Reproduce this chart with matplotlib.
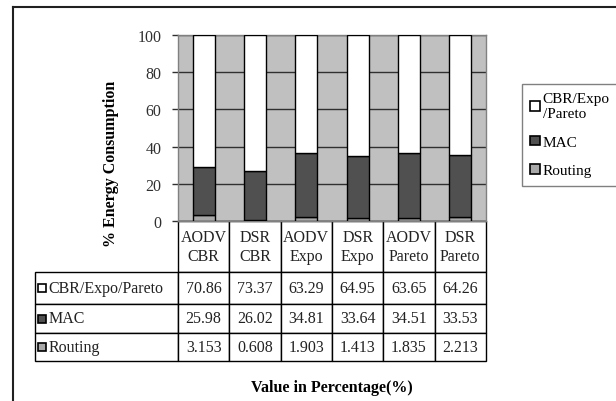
import matplotlib.pyplot as plt
import matplotlib.patches as mpatches
from matplotlib.lines import Line2D
import numpy as np

# data
categories = ['AODV\nCBR', 'DSR\nCBR', 'AODV\nExpo', 'DSR\nExpo', 'AODV\nPareto', 'DSR\nPareto']
traffic = [70.86, 73.37, 63.29, 64.95, 63.65, 64.26]
mac = [25.98, 26.02, 34.81, 33.64, 34.51, 33.53]
routing = [3.153, 0.608, 1.903, 1.413, 1.835, 2.213]
traffic_txt = ['70.86', '73.37', '63.29', '64.95', '63.65', '64.26']
mac_txt = ['25.98', '26.02', '34.81', '33.64', '34.51', '33.53']
routing_txt = ['3.153', '0.608', '1.903', '1.413', '1.835', '2.213']
series_names = ['CBR/Expo/Pareto', 'MAC', 'Routing']
legend_names = ['CBR/Expo\n/Pareto', 'MAC', 'Routing']
colors = ['white', '#505050', '#a8a8a8']

plt.rcParams['font.family'] = ['Liberation Serif', 'DejaVu Serif']
fs = 11.5

W, H = 616, 402
fig = plt.figure(figsize=(W / 100, H / 100), dpi=100)

# plot area in pixels
px0, px1, py0, py1 = 178, 486, 36, 222
ax = fig.add_axes([px0 / W, 1 - py1 / H, (px1 - px0) / W, (py1 - py0) / H])
ax.set_facecolor('#c0c0c0')

x = np.arange(len(categories))
bw = 0.43
ax.bar(x, routing, bw, color=colors[2], edgecolor='black', linewidth=1, zorder=3)
ax.bar(x, mac, bw, bottom=routing, color=colors[1], edgecolor='black', linewidth=1, zorder=3)
ax.bar(x, traffic, bw, bottom=np.array(routing) + np.array(mac), color=colors[0],
       edgecolor='black', linewidth=1, zorder=3)

ax.set_xlim(-0.5, len(categories) - 0.5)
ax.set_ylim(0, 100)
ax.set_yticks([0, 20, 40, 60, 80, 100])
ax.tick_params(axis='y', labelsize=fs, length=4, width=1, colors='#303030', pad=8)
ax.tick_params(axis='x', bottom=False, labelbottom=False)
ax.yaxis.grid(True, color='#303030', linewidth=1)
ax.set_axisbelow(True)
for s in ax.spines.values():
    s.set_color('#808080')
    s.set_linewidth(1)

# data table under the plot
cell_text = [[''] + categories]
for name, vals in zip(series_names, [traffic_txt, mac_txt, routing_txt]):
    cell_text.append([name] + vals)

label_w = px0 - 35
col_w = (px1 - px0) / len(categories)
tb_top, tb_bot = py1, 362
ah = py1 - py0
tab = ax.table(cellText=cell_text, colWidths=[label_w] + [col_w] * len(categories),
               cellLoc='center',
               bbox=[-(label_w) / (px1 - px0), -(tb_bot - tb_top) / ah,
                     (px1 - 35) / (px1 - px0), (tb_bot - tb_top) / ah])
tab.auto_set_font_size(False)
row_h = [51, 32, 29, 28]
for (r, c), cell in tab.get_celld().items():
    cell.set_height(row_h[r])
    cell.set_linewidth(1)
    cell.set_edgecolor('black')
    cell.get_text().set_fontsize(fs)
    cell.get_text().set_color('#222222')
    if r == 0 and c == 0:
        cell.visible_edges = ''
    if r > 0 and c == 0:
        cell.get_text().set_ha('left')
        cell.PAD = 0.095

# marker squares in row labels
for i, col in enumerate(colors):
    yc = tb_top + row_h[0] + sum(row_h[1:i + 1]) + row_h[i + 1] / 2
    fig.patches.append(mpatches.Rectangle((38 / W, 1 - (yc + 4) / H), 8 / W, 8 / H,
                                          facecolor=col, edgecolor='black', linewidth=1.2,
                                          transform=fig.transFigure))

ax.set_ylabel('% Energy Consumption', fontsize=fs, fontweight='bold')
ax.yaxis.set_label_coords((119 - px0) / (px1 - px0), (py1 - 164) / ah)
fig.text(332 / W, 1 - 388 / H, 'Value in Percentage(%)', fontsize=fs, fontweight='bold',
         ha='center', va='center')

# legend
handles = [mpatches.Patch(facecolor=c, edgecolor='black', linewidth=1.2) for c in colors]
leg = fig.legend(handles, legend_names, loc='upper left',
                 bbox_to_anchor=(522 / W, 1 - 85 / H), fontsize=11, frameon=True,
                 fancybox=False, handlelength=0.6, handleheight=0.6, handletextpad=0.2,
                 borderpad=0.55, labelspacing=1.0, borderaxespad=0)
leg.get_frame().set_edgecolor('#606060')
leg.get_frame().set_linewidth(1)

# outer frame (left and top visible)
fig.add_artist(Line2D([13 / W, 13 / W], [0, 1 - 8 / H], color='#202020', linewidth=1.5,
                      transform=fig.transFigure))
fig.add_artist(Line2D([13 / W, 1], [1 - 8 / H, 1 - 8 / H], color='#202020', linewidth=1.5,
                      transform=fig.transFigure))

fig.savefig('out.png', dpi=100)
